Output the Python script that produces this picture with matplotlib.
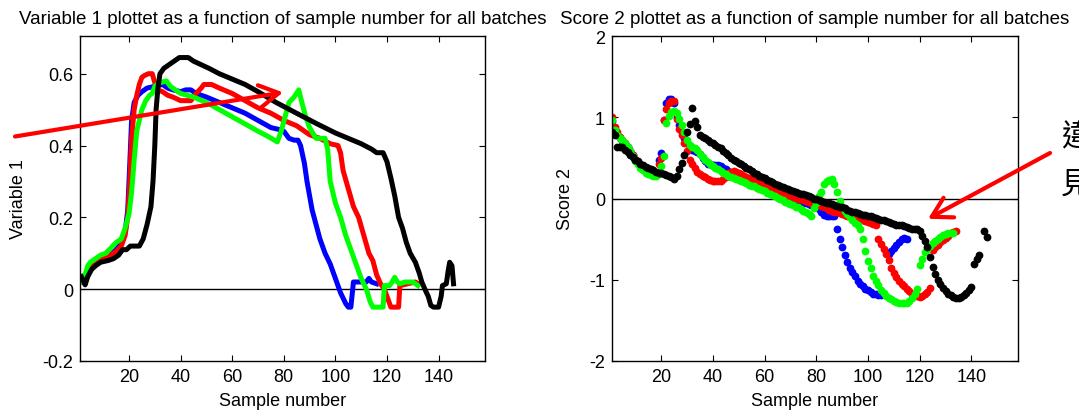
import numpy as np
import matplotlib
matplotlib.use("Agg")
import matplotlib.pyplot as plt

plt.rcParams['font.family'] = ['Liberation Sans', 'DejaVu Sans']
plt.rcParams['axes.unicode_minus'] = False

nan = np.nan

# ---- Variable 1 trajectories: (sample number, value) vertices per batch ----
blue_var_x = [2, 3, 5, 8, 12, 15, 17, 18.5, 19.5, 20.3, 21, 22, 23.5, 25, 27, 30, 33, 35, 37, 40,
              42, 44, 46, 50, 55, 60, 65, 70, 75, 78, 80, 82, 84, 85.5, 86.5, 88, 89, 91, 94, 96,
              98, 100, 102, 104, 105, 106, 107, 112, 113, 114, 116]
blue_var_y = [0.02, 0.03, 0.06, 0.08, 0.09, 0.11, 0.13, 0.16, 0.22, 0.35, 0.47, 0.52, 0.54, 0.55,
              0.56, 0.565, 0.57, 0.56, 0.555, 0.55, 0.555, 0.555, 0.545, 0.535, 0.52, 0.505, 0.49,
              0.47, 0.45, 0.445, 0.44, 0.42, 0.415, 0.415, 0.40, 0.35, 0.30, 0.22, 0.14, 0.10,
              0.07, 0.03, -0.01, -0.04, -0.05, -0.05, 0.02, 0.02, 0.03, 0.02, 0.015]

red_var_x = [2, 5, 8, 12, 15, 17, 18.5, 19.5, 20.3, 21, 22, 23, 24, 25, 26, 27.5, 29, 30, 31, 33,
             35, 37, 40, 44, 46, 48, 49, 52, 55, 60, 65, 70, 75, 80, 85, 90, 94, 98, 101, 102,
             103, 105, 107, 109, 111, 113, 114.5, 116, 117.5, 119, 120.5, 121.5, 124.5, 125,
             128, 131, 132]
red_var_y = [0.02, 0.06, 0.08, 0.09, 0.105, 0.12, 0.15, 0.20, 0.30, 0.42, 0.50, 0.54, 0.57, 0.59,
             0.595, 0.60, 0.60, 0.575, 0.555, 0.55, 0.54, 0.535, 0.525, 0.525, 0.545, 0.56, 0.57,
             0.57, 0.56, 0.545, 0.525, 0.505, 0.49, 0.47, 0.455, 0.43, 0.42, 0.405, 0.40, 0.38,
             0.33, 0.28, 0.23, 0.20, 0.15, 0.10, 0.08, 0.04, 0.015, 0.0, -0.03, -0.05, -0.05,
             0.01, 0.015, 0.02, 0.015]

green_var_x = [2, 3, 4, 5, 7, 9, 11, 13, 15, 17, 18.5, 20, 21, 22, 23, 24, 25, 26.5, 28, 29, 30,
               32, 34.5, 36, 38, 40, 45, 50, 55, 60, 65, 70, 74, 77.5, 79, 80.5, 82, 84, 85.8,
               87, 88.5, 90, 92.5, 96, 97, 98, 100, 102, 104, 106, 108, 110, 112, 113.5, 114.5,
               118.5, 119, 121, 122, 123, 124, 125, 127, 130, 132]
green_var_y = [0.02, 0.04, 0.065, 0.075, 0.085, 0.095, 0.10, 0.115, 0.13, 0.14, 0.17, 0.21, 0.27,
               0.36, 0.44, 0.47, 0.50, 0.525, 0.54, 0.545, 0.565, 0.575, 0.58, 0.565, 0.555,
               0.545, 0.535, 0.52, 0.50, 0.48, 0.46, 0.44, 0.425, 0.41, 0.44, 0.48, 0.52, 0.535,
               0.555, 0.52, 0.48, 0.45, 0.42, 0.42, 0.39, 0.30, 0.24, 0.20, 0.15, 0.11, 0.07,
               0.03, 0.0, -0.035, -0.05, -0.05, 0.01, 0.01, 0.02, 0.033, 0.02, 0.015, 0.02, 0.02,
               0.01]

black_var_x = [1.5, 2.5, 3, 4, 5.5, 7, 9, 12, 14, 16, 17.5, 19, 20.5, 24, 25.5, 27, 28.5, 29.3,
               30, 30.5, 31.2, 32, 33.5, 35.5, 37.5, 39.5, 43, 45, 48, 51, 55, 60, 65, 70, 77,
               86, 93, 100, 105, 110, 114, 116, 118.5, 120, 121.5, 123, 124.5, 126, 127.5, 129,
               131, 132.5, 133.5, 135, 136, 137, 138, 140, 141, 141.5, 143, 143.7, 144.3, 145.2,
               145.8]
black_var_y = [0.035, 0.02, 0.012, 0.035, 0.055, 0.065, 0.075, 0.08, 0.085, 0.095, 0.11, 0.11,
               0.12, 0.12, 0.14, 0.18, 0.23, 0.30, 0.40, 0.50, 0.56, 0.60, 0.615, 0.625, 0.635,
               0.645, 0.645, 0.635, 0.625, 0.615, 0.60, 0.585, 0.57, 0.55, 0.52, 0.486, 0.46,
               0.435, 0.42, 0.405, 0.39, 0.38, 0.38, 0.355, 0.31, 0.26, 0.20, 0.17, 0.13, 0.10,
               0.075, 0.045, 0.02, -0.005, -0.02, -0.045, -0.05, -0.05, -0.02, 0.01, 0.015, 0.05,
               0.075, 0.065, 0.015]

# ---- Score 2 per sample (sample 1, 2, 3, ...) per batch ----
blue_score = [0.95, 0.86, 0.80, 0.75, 0.71, 0.67, 0.63, 0.58, 0.53, 0.48,
              0.44, 0.40, 0.37, 0.34, 0.32, 0.30, 0.29, 0.30, 0.47, 0.56,
              0.97, 1.17, 1.23, 1.23, 1.18, 1.00, 0.90, 0.82, 0.75, 0.68,
              0.63, 0.60, 0.59, 0.57, 0.55, 0.50, 0.46, 0.43, 0.42, 0.41,
              0.41, 0.41, 0.40, 0.38, 0.36, 0.34, 0.32, 0.30, 0.29, 0.28,
              0.27, 0.26, 0.24, 0.23, 0.21, 0.20, 0.19, 0.17, 0.16, 0.15,
              0.13, 0.12, 0.10, 0.09, 0.07, 0.06, 0.05, 0.04, 0.03, 0.02,
              0.00, -0.02, -0.03, -0.04, -0.05, -0.06, -0.07, -0.08, -0.09, -0.10,
              -0.13, -0.17, -0.20, -0.22, -0.22, -0.21, -0.22, -0.38, -0.50, -0.60,
              -0.70, -0.78, -0.85, -0.90, -0.95, -1.01, -1.05, -1.08, -1.11, -1.13,
              -1.15, -1.17, -1.18, -1.19, -1.19, nan, nan, -0.68, -0.64, -0.61,
              -0.57, -0.53, -0.50, -0.49, -0.50]

red_score = [1.00, 0.88, 0.82, 0.76, 0.72, 0.68, 0.64, 0.59, 0.54, 0.49,
             0.45, 0.41, 0.38, 0.35, 0.33, 0.31, 0.30, 0.32, 0.42, 0.50,
             0.97, 1.10, 1.17, 1.20, 1.20, 0.98, 0.86, 0.78, 0.68, 0.58,
             0.48, 0.42, 0.37, 0.33, 0.30, 0.28, 0.26, 0.24, 0.23, 0.22,
             0.21, 0.21, 0.22, 0.24, 0.27, 0.31, 0.33, 0.34, 0.33, 0.32,
             0.30, 0.28, 0.27, 0.25, 0.24, 0.22, 0.21, 0.19, 0.18, 0.17,
             0.15, 0.14, 0.12, 0.11, 0.09, 0.08, 0.07, 0.06, 0.04, 0.03,
             0.02, 0.01, 0.00, -0.01, -0.02, -0.03, -0.04, -0.05, -0.06, -0.07,
             -0.08, -0.09, -0.11, -0.12, -0.14, -0.15, -0.16, -0.17, -0.18, -0.19,
             -0.20, -0.21, -0.22, -0.23, -0.24, -0.25, -0.26, -0.27, -0.28, -0.29,
             -0.30, -0.31, -0.32, -0.50, -0.56, -0.62, -0.68, -0.76, -0.85, -0.92,
             -0.97, -1.02, -1.05, -1.08, -1.11, -1.14, -1.17, -1.19, -1.20, -1.21,
             -1.20, -1.18, -1.15, -1.10, -0.63, -0.60, -0.57, -0.54, -0.51, -0.48,
             -0.46, -0.43, -0.41, -0.40]

green_score = [0.97, 0.84, 0.78, 0.74, 0.72, 0.68, 0.64, 0.58, 0.52, 0.46,
               0.42, 0.38, 0.35, 0.32, 0.30, 0.29, 0.28, 0.28, 0.30, 0.40,
               0.52, 0.93, 1.02, 1.07, 1.08, 1.05, 0.98, 0.90, 0.82, 0.72,
               0.66, 0.63, 0.62, 0.60, 0.55, 0.51, 0.48, 0.45, 0.42, 0.40,
               0.38, 0.36, 0.34, 0.32, 0.30, 0.28, 0.27, 0.25, 0.24, 0.23,
               0.21, 0.20, 0.19, 0.17, 0.16, 0.15, 0.13, 0.12, 0.10, 0.09,
               0.07, 0.06, 0.04, 0.03, 0.01, -0.01, -0.02, -0.04, -0.05, -0.07,
               -0.08, -0.10, -0.11, -0.13, -0.15, -0.17, -0.19, -0.21, -0.12, -0.05,
               0.03, 0.08, 0.18, 0.21, 0.23, 0.24, 0.18, 0.08, -0.03, -0.10,
               -0.15, -0.19, -0.23, -0.27, -0.30, -0.33, -0.37, -0.50, -0.65, -0.77,
               -0.86, -0.95, -1.02, -1.07, -1.12, -1.16, -1.20, -1.22, -1.24, -1.26,
               -1.27, -1.28, -1.29, -1.29, -1.28, -1.26, -1.22, -1.17, -1.11, -0.82,
               -0.74, -0.66, -0.62, -0.58, -0.55, -0.52, -0.50, -0.47, -0.45, -0.44,
               -0.43, -0.42, -0.42]

black_score = [0.82, 0.78, 0.64, 0.63, 0.63, 0.60, 0.57, 0.54, 0.51, 0.48,
               0.46, 0.43, 0.41, 0.39, 0.37, 0.36, 0.35, 0.33, 0.32, 0.31,
               0.30, 0.29, 0.28, 0.26, 0.24, 0.28, 0.36, 0.44, 0.53, 0.82,
               0.92, 1.12, 0.95, 0.88, 0.78, 0.76, 0.75, 0.72, 0.70, 0.68,
               0.66, 0.64, 0.62, 0.59, 0.56, 0.53, 0.50, 0.48, 0.46, 0.44,
               0.42, 0.40, 0.38, 0.36, 0.34, 0.32, 0.30, 0.28, 0.26, 0.25,
               0.23, 0.21, 0.20, 0.18, 0.17, 0.16, 0.14, 0.13, 0.12, 0.10,
               0.09, 0.08, 0.07, 0.06, 0.05, 0.04, 0.03, 0.02, 0.00, -0.01,
               -0.02, -0.03, -0.04, -0.05, -0.06, -0.07, -0.08, -0.09, -0.10, -0.11,
               -0.12, -0.14, -0.15, -0.16, -0.17, -0.18, -0.19, -0.20, -0.20, -0.21,
               -0.22, -0.23, -0.24, -0.25, -0.26, -0.27, -0.28, -0.29, -0.30, -0.31,
               -0.32, -0.32, -0.33, -0.34, -0.35, -0.36, -0.37, -0.38, -0.38, -0.40,
               -0.46, -0.52, -0.60, -0.72, -0.84, -0.93, -1.00, -1.05, -1.10, -1.14,
               -1.17, -1.19, -1.21, -1.22, -1.22, -1.21, -1.19, -1.16, -1.12, -1.09,
               -0.80, -0.75, -0.70, nan, -0.40, -0.47]

batch_colors = ['#0000ff', '#ff0000', '#00ff00', '#000000']

sample_ticks = [20, 40, 60, 80, 100, 120, 140]
var_ticks = [-0.2, 0, 0.2, 0.4, 0.6]
var_tick_labels = ['-0.2', '0', '0.2', '0.4', '0.6']
score_ticks = [-2, -1, 0, 1, 2]
score_tick_labels = ['-2', '-1', '0', '1', '2']

W, H = 1079, 414
fig = plt.figure(figsize=(W / 100, H / 100), dpi=100)
ax1 = fig.add_axes([80 / W, 52 / H, 405 / W, 325 / H])
ax2 = fig.add_axes([612 / W, 52 / H, 406 / W, 325 / H])

FS = 13

for ax in (ax1, ax2):
    ax.set_xlim(1, 158)
    ax.set_xticks(sample_ticks)
    ax.tick_params(direction='in', top=True, right=True, length=4, width=0.8,
                   labelsize=FS, pad=5, colors='black')
    for sp in ax.spines.values():
        sp.set_linewidth(1.0)
    ax.axhline(0, color='black', lw=1.0, zorder=1)
    ax.set_xlabel('Sample number', fontsize=FS, labelpad=5)

# Left: Variable 1 lines
var_series = [(blue_var_x, blue_var_y), (red_var_x, red_var_y),
              (green_var_x, green_var_y), (black_var_x, black_var_y)]
for (xs, ys), c in zip(var_series, batch_colors):
    ax1.plot(xs, ys, color=c, lw=3.6, solid_joinstyle='round', zorder=2)
ax1.set_ylim(-0.2, 0.705)
ax1.set_yticks(var_ticks)
ax1.set_yticklabels(var_tick_labels)
ax1.set_ylabel('Variable 1', fontsize=FS, labelpad=11)
ax1.set_title('Variable 1 plottet as a function of sample number for all batches',
              fontsize=13.5, pad=9)

# Right: Score 2 dots
score_series = [blue_score, red_score, green_score, black_score]
for vals, c in zip(score_series, batch_colors):
    samples = np.arange(1, len(vals) + 1)
    ax2.plot(samples, vals, linestyle='none', marker='o', ms=5.6, mfc=c, mec='none', zorder=2)
ax2.set_ylim(-2, 2)
ax2.set_yticks(score_ticks)
ax2.set_yticklabels(score_tick_labels)
ax2.set_ylabel('Score 2', fontsize=FS, labelpad=11)
ax2.set_title('Score 2 plottet as a function of sample number for all batches',
              fontsize=13.5, pad=9)

# Red pointer arrows
arrow_kw = dict(arrowstyle='->, head_length=1.4, head_width=0.8', color='#ff0000',
                lw=3.0, shrinkA=0, shrinkB=0, mutation_scale=10)
ax1.annotate('', xy=(79.7, 0.548), xycoords='data',
             xytext=(15, H - 137.5), textcoords='figure pixels',
             arrowprops=arrow_kw, annotation_clip=False)
ax2.annotate('', xy=(123.2, -0.25), xycoords='data',
             xytext=(1050, H - 154), textcoords='figure pixels',
             arrowprops=arrow_kw, annotation_clip=False)

# Side note (runs past the right edge)
cjk = ['Noto Sans CJK TC', 'Noto Sans CJK JP', 'DejaVu Sans']
fig.text(1061 / W, 1 - 138 / H, '違', family=cjk, fontsize=22, ha='left', va='center')
fig.text(1061 / W, 1 - 185 / H, '見', family=cjk, fontsize=22, ha='left', va='center')

fig.savefig('out.png', dpi=100)
